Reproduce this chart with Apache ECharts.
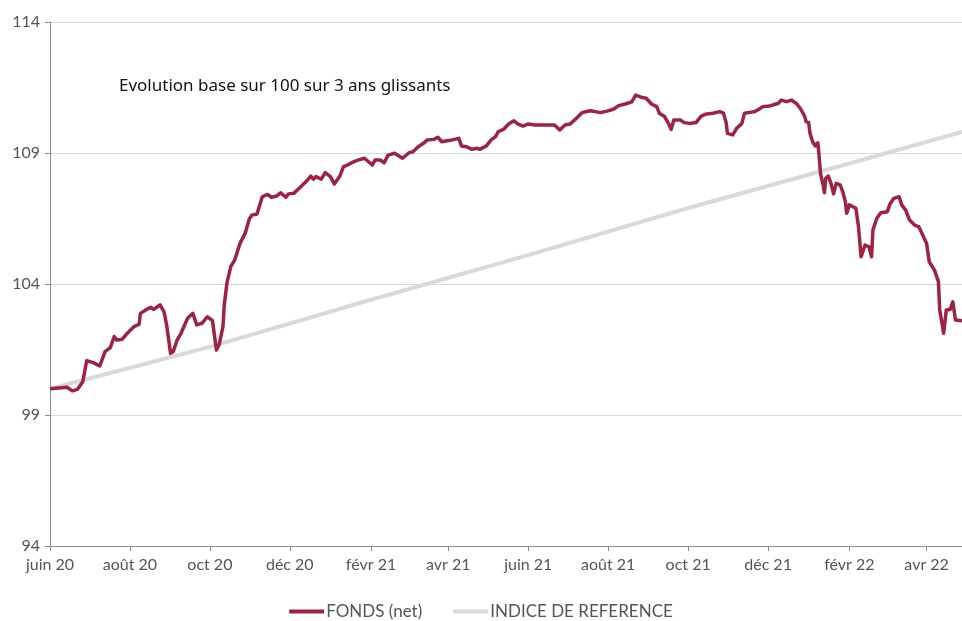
<!DOCTYPE html>
<html><head><meta charset="utf-8">
<script src="https://cdn.jsdelivr.net/npm/echarts@6/dist/echarts.min.js"></script>
<style>html,body{margin:0;padding:0;background:#fff}#c{width:962px;height:621px}</style>
</head><body><div id="c"></div>
<script>
const tickDates = ['2020-06-01','2020-08-01','2020-10-01','2020-12-01','2021-02-01','2021-04-01','2021-06-01','2021-08-01','2021-10-01','2021-12-01','2022-02-01','2022-04-01'];
const tickLabels = ['juin 20','août 20','oct 20','déc 20','févr 21','avr 21','juin 21','août 21','oct 21','déc 21','févr 22','avr 22'];
const yTicks = [94, 99, 104, 109, 114];

const fundDates = ['2020-06-01','2020-06-14','2020-06-18','2020-06-22','2020-06-26','2020-06-29','2020-07-04','2020-07-09','2020-07-13','2020-07-17','2020-07-20','2020-07-22','2020-07-26','2020-07-30','2020-08-04','2020-08-08','2020-08-09','2020-08-13','2020-08-17','2020-08-19','2020-08-22','2020-08-24','2020-08-27','2020-08-29','2020-09-01','2020-09-03','2020-09-06','2020-09-09','2020-09-14','2020-09-18','2020-09-21','2020-09-25','2020-09-29','2020-10-03','2020-10-06','2020-10-08','2020-10-11','2020-10-12','2020-10-14','2020-10-17','2020-10-20','2020-10-24','2020-10-28','2020-10-31','2020-11-02','2020-11-06','2020-11-10','2020-11-14','2020-11-17','2020-11-21','2020-11-24','2020-11-28','2020-11-30','2020-12-04','2020-12-09','2020-12-14','2020-12-17','2020-12-19','2020-12-21','2020-12-25','2020-12-28','2021-01-01','2021-01-04','2021-01-08','2021-01-11','2021-01-14','2021-01-19','2021-01-22','2021-01-27','2021-02-02','2021-02-04','2021-02-08','2021-02-11','2021-02-14','2021-02-19','2021-02-25','2021-03-02','2021-03-05','2021-03-09','2021-03-13','2021-03-16','2021-03-21','2021-03-24','2021-03-27','2021-03-31','2021-04-04','2021-04-09','2021-04-11','2021-04-15','2021-04-19','2021-04-23','2021-04-25','2021-04-30','2021-05-04','2021-05-07','2021-05-09','2021-05-13','2021-05-17','2021-05-21','2021-05-24','2021-05-28','2021-06-01','2021-06-06','2021-06-12','2021-06-21','2021-06-25','2021-06-29','2021-07-03','2021-07-07','2021-07-12','2021-07-18','2021-07-22','2021-07-26','2021-07-31','2021-08-05','2021-08-09','2021-08-14','2021-08-19','2021-08-22','2021-08-26','2021-08-30','2021-09-03','2021-09-07','2021-09-09','2021-09-13','2021-09-16','2021-09-18','2021-09-20','2021-09-25','2021-09-28','2021-10-02','2021-10-07','2021-10-11','2021-10-15','2021-10-20','2021-10-25','2021-10-28','2021-10-30','2021-10-31','2021-11-04','2021-11-07','2021-11-11','2021-11-13','2021-11-17','2021-11-21','2021-11-24','2021-11-27','2021-12-02','2021-12-07','2021-12-09','2021-12-11','2021-12-15','2021-12-19','2021-12-23','2021-12-26','2021-12-29','2021-12-30','2022-01-01','2022-01-02','2022-01-04','2022-01-06','2022-01-08','2022-01-09','2022-01-10','2022-01-12','2022-01-13','2022-01-14','2022-01-16','2022-01-18','2022-01-20','2022-01-22','2022-01-25','2022-01-27','2022-01-29','2022-01-30','2022-02-01','2022-02-02','2022-02-06','2022-02-08','2022-02-10','2022-02-13','2022-02-16','2022-02-18','2022-02-19','2022-02-22','2022-02-25','2022-03-02','2022-03-04','2022-03-07','2022-03-11','2022-03-13','2022-03-16','2022-03-19','2022-03-23','2022-03-26','2022-03-29','2022-04-01','2022-04-03','2022-04-07','2022-04-10','2022-04-11','2022-04-14','2022-04-16','2022-04-19','2022-04-21','2022-04-23','2022-04-28'];
const fundValues = [100.0,100.06,99.92,99.98,100.27,101.07,101.0,100.87,101.42,101.57,101.99,101.86,101.89,102.12,102.37,102.46,102.88,103.01,103.11,103.03,103.13,103.2,102.94,102.44,101.35,101.42,101.86,102.12,102.69,102.88,102.44,102.5,102.75,102.6,101.48,101.67,102.37,103.2,104.03,104.67,104.92,105.55,105.94,106.47,106.63,106.67,107.33,107.42,107.31,107.36,107.48,107.31,107.44,107.46,107.69,107.94,108.12,108.0,108.1,108.0,108.25,108.1,107.82,108.1,108.48,108.54,108.67,108.73,108.8,108.54,108.73,108.73,108.63,108.92,108.99,108.8,109.01,109.05,109.24,109.37,109.5,109.52,109.6,109.43,109.47,109.5,109.56,109.27,109.24,109.14,109.18,109.14,109.27,109.52,109.62,109.81,109.9,110.11,110.23,110.11,110.03,110.11,110.07,110.07,110.07,109.88,110.07,110.11,110.29,110.54,110.61,110.58,110.54,110.6,110.67,110.81,110.87,110.95,111.21,111.13,111.09,110.87,110.77,110.52,110.39,110.13,109.9,110.26,110.26,110.16,110.13,110.16,110.41,110.49,110.52,110.58,110.52,110.16,109.75,109.69,109.94,110.13,110.52,110.55,110.58,110.67,110.77,110.79,110.87,110.9,111.02,110.96,111.02,110.87,110.67,110.39,110.2,110.16,109.75,109.43,109.27,109.39,108.86,108.22,107.78,107.48,108.03,108.12,107.84,107.44,107.84,107.78,107.52,107.14,106.7,107.02,106.95,106.89,106.19,105.04,105.49,105.42,105.04,106.06,106.51,106.72,106.76,107.05,107.27,107.33,107.02,106.82,106.44,106.24,106.19,105.87,105.55,104.85,104.53,104.09,103.01,102.12,103.01,103.03,103.32,102.63,102.6];

const indexDates = ['2020-06-01','2020-10-01','2021-02-01','2021-06-01','2021-10-01','2022-02-01','2022-04-28'];
const indexValues = [100.0, 101.6, 103.4, 105.1, 106.9, 108.6, 109.8];

const FONT = 'Lato, "DejaVu Sans", sans-serif';
const ts = d => Date.UTC(+d.slice(0, 4), +d.slice(5, 7) - 1, +d.slice(8, 10));
const tickTs = tickDates.map(ts);

const chart = echarts.init(document.getElementById('c'), null, {renderer: 'canvas'});
chart.setOption({
  animation: false,
  grid: {left: 50, right: 0, top: 22, bottom: 75, containLabel: false},
  title: {
    text: 'Evolution base sur 100 sur 3 ans glissants',
    left: 114, top: 73,
    textStyle: {fontFamily: '"Noto Sans",sans-serif', fontSize: 17, fontWeight: 'normal', color: '#111'}
  },
  legend: {
    top: 598, left: 'center',
    itemWidth: 35, itemHeight: 4, itemGap: 31,
    textStyle: {fontFamily: FONT, fontSize: 17, color: '#555', padding: [0, 0, 0, -3]},
    data: [{name: 'FONDS (net)', icon: 'rect'}, {name: 'INDICE DE REFERENCE', icon: 'rect'}]
  },
  xAxis: {
    type: 'value',
    min: ts('2020-06-01'), max: ts('2022-04-28'),
    axisLine: {onZero: false, lineStyle: {color: '#8c8c8c', width: 1}},
    axisTick: {show: true, customValues: tickTs, length: 5, lineStyle: {color: '#8c8c8c'}},
    axisLabel: {
      customValues: tickTs,
      formatter: v => { const i = tickTs.indexOf(v); return i >= 0 ? tickLabels[i] : ''; },
      fontFamily: FONT, fontSize: 16, color: '#555', margin: 11, hideOverlap: false
    },
    splitLine: {show: false}
  },
  yAxis: {
    type: 'value', min: yTicks[0], max: yTicks[yTicks.length - 1], interval: 5,
    axisLine: {show: true, lineStyle: {color: '#8c8c8c', width: 1}},
    axisTick: {show: true, length: 5, lineStyle: {color: '#8c8c8c'}},
    axisLabel: {fontFamily: FONT, fontSize: 16, color: '#555', margin: 10},
    splitLine: {show: true, lineStyle: {color: '#d9d9d9', width: 1}}
  },
  series: [
    {
      name: 'INDICE DE REFERENCE', type: 'line', symbol: 'none', z: 2,
      itemStyle: {color: '#d9d9d9'},
      lineStyle: {color: '#d9d9d9', width: 4},
      data: indexDates.map((d, i) => [ts(d), indexValues[i]])
    },
    {
      name: 'FONDS (net)', type: 'line', symbol: 'none', z: 3,
      itemStyle: {color: '#9d2341'},
      lineStyle: {color: '#9d2341', width: 3.5, join: 'round'},
      data: fundDates.map((d, i) => [ts(d), fundValues[i]])
    }
  ]
});
</script></body></html>
